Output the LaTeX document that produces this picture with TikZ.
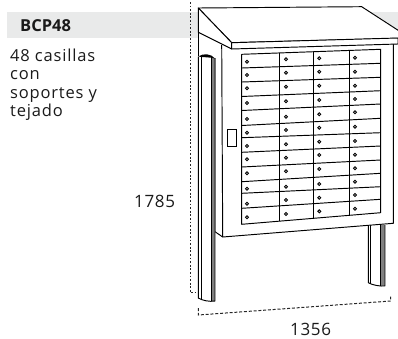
\documentclass[tikz,border=0pt]{standalone}
\usepackage{fontspec}
\setmainfont{Open Sans}
\definecolor{bandgray}{HTML}{E9EAEA}
\definecolor{txt}{HTML}{1A1A1A}
\tikzset{
  ink/.style={draw=black,line width=0.95pt,line join=round},
  label text/.style={text=txt,font=\fontsize{16.5}{18}\selectfont\addfontfeature{LetterSpace=5},inner sep=0pt},
  dimv/.style={draw=black!85,line width=1pt,dash pattern=on 1.8pt off 1.8pt},
  dimh/.style={draw=black!85,line width=1pt,dash pattern=on 3pt off 1.8pt},
  hole/.style={draw=black,line width=0.9pt,fill=white},
}
\begin{document}
\begin{tikzpicture}[x=1pt,y=-1pt]
\useasboundingbox (0,0) rectangle (398,338);
% band
\fill[bandgray] (7.3,12) rectangle (398,37.7);
\node[label text,anchor=base west,font=\fontsize{16.5}{18}\selectfont\bfseries] (title) at (20,31) {BCP48};
\node[label text,anchor=base west] (l1) at (10,61) {48 casillas};
\node[label text,anchor=base west] (l2) at (10,79) {con};
\node[label text,anchor=base west] (l3) at (10,98) {soportes y};
\node[label text,anchor=base west] (l4) at (10,116.7) {tejado};
\node[label text,anchor=base west,font=\fontsize{17}{18}\selectfont\addfontfeature{LetterSpace=4}] (h) at (134,207) {1785};
\node[label text,anchor=base west,font=\fontsize{17}{18}\selectfont\addfontfeature{LetterSpace=4}] (w) at (290,335) {1356};
% dimensions
\coordinate (vt) at (190,2);
\coordinate (vb) at (190,292.7);
\coordinate (vf) at (195,292.7);
\draw[dimv] (vt) -- (vb) -- (vf);
\coordinate (wl) at (198.3,315);
\coordinate (wr) at (390.7,301);
\coordinate (wlt) at (198.3,308);
\coordinate (wrt) at (390.7,296.7);
\draw[dimh] (wlt) -- (wl) -- (wr) -- (wrt);
% right post
\fill[white] (368.3,225) -- (385,225) -- (385,286) -- (368.3,283) -- cycle;
\fill[black!50] (380,225) rectangle (385,286);
\draw[ink] (368.3,225) -- (368.3,282.7) .. controls (372,285) and (380,286.5) .. (385,286) -- (385,225);
\draw[ink] (370.7,225) -- (370.7,284);
\draw[ink] (380,225) -- (380,285.7);
% cabinet
\path[fill=white] (198.3,32.3) -- (221.7,45) -- (393.3,45) -- (393.3,223.3) -- (222.7,237) -- (215,231.7) -- (215,58) -- (198.3,56) -- cycle;
\draw[ink] (198.3,32.3) -- (198.3,56);
\draw[ink] (215,58) -- (215,231.7) -- (222.7,237) -- (393.3,223.3) -- (393.3,44);
\draw[ink] (221.7,45) -- (222.7,237);
% left post
\fill[white] (198.3,57) -- (215,57) -- (215,301) -- (198.3,298) -- cycle;
\fill[black!50] (212,58) -- (215,58) -- (215,301) -- (212,301) -- cycle;
\draw[ink] (198.3,56.5) -- (198.3,298) .. controls (202,300.5) and (210,302) .. (215,301) -- (215,58);
\draw[ink] (201.7,57) -- (201.7,299.5);
\draw[ink] (211,58) -- (211,301.3);
\fill[black] (198.3,56.5) .. controls (203,53) and (211,53.5) .. (215,58.5) .. controls (210,57) and (203,57.5) .. (198.3,56.5) -- cycle;
% roof
\begin{scope}
\clip (0,0) rectangle (398,338);
\path[ink,fill=white] (198.3,8) -- (361.7,6.7) -- (410,38) -- (231.7,42.7) -- cycle;
\path[ink,fill=white] (198.3,8) -- (231.7,42.7) -- (231.7,49) -- (198.3,32.3) -- cycle;
\path[ink,fill=white] (231.7,42.7) -- (398,38) -- (398,44) -- (231.7,49) -- cycle;
\end{scope}
% panel
\draw[ink,fill=white] (241.7,54.3) -- (380.7,49.3) -- (380.7,212.7) -- (241.7,224.3) -- cycle;
\foreach \yl/\yr in {68/63.3,82/77.3,96.5/90.7,110.5/104,125.5/118.3,137.7/132.7,152.3/146,167/160,181.7/173.3,193.3/186.7,208.3/199.3}
  \draw[ink] (241.7,\yl) -- (380.7,\yr);
\draw[ink] (279.3,52.9) -- (279.3,221.2);
\draw[ink] (313.3,51.8) -- (313.3,218.3);
\draw[ink] (349.3,50.4) -- (349.3,215.3);
% locks
\foreach \y in {61.7,75,88.3,103,119,132.7,146,159.3,173.3,188.7,203.7,217.3}
  \draw[hole] (247,\y) circle (1.5);
\foreach \y in {59.3,72.7,86.7,101.3,116.7,130,144.3,157.7,171.3,186.7,200,214}
  \draw[hole] (286,\y) circle (1.5);
\foreach \y in {58.3,71.7,85.7,100,114.3,127.7,141.7,155,169,184,197.7,211.3}
  \draw[hole] (319.3,\y) circle (1.5);
\foreach \y in {57.7,71.7,85.7,99,112.3,126.7,141,154.7,168.3,181.7,195,208.7}
  \draw[hole] (355,\y) circle (1.5);
% handle
\draw[draw=black,line width=0.95pt,fill=white] (227.7,129.5) rectangle (236,146);
\end{tikzpicture}
\end{document}
